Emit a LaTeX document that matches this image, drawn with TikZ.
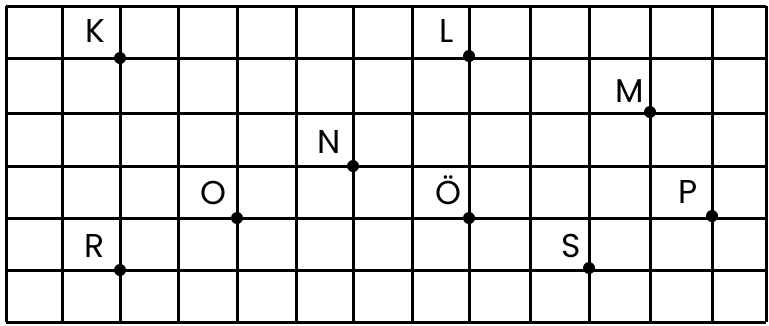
\documentclass[tikz,border=0pt]{standalone}
\usepackage{fontspec}
\setmainfont{Poppins}
\tikzset{
  gridline/.style={line width=3pt, black},
  pt/.style={circle, fill=black, inner sep=0pt, minimum size=12pt},
  lbl/.style={anchor=base, inner sep=0pt, font=\fontsize{33}{38}\selectfont}
}
\begin{document}
\begin{tikzpicture}[x=1pt,y=-1pt]
\useasboundingbox (0,0) rectangle (769,325);
\fill[white] (0,0) rectangle (769,325);
% vertical lines
\foreach \x in {6,62,120,178,237,296,353,412,469,530,589,650,712,766}
  \draw[gridline] (\x,6) -- (\x,322);
% horizontal lines
\foreach \y in {6,58,113,166,218,270,322}
  \draw[gridline] (6,\y) -- (766,\y);
% points
\node[pt] (K) at (120,58) {};
\node[pt] (L) at (469,56) {};
\node[pt] (M) at (650,112) {};
\node[pt] (N) at (353,166) {};
\node[pt] (O) at (237,218) {};
\node[pt] (OE) at (469,218) {};
\node[pt] (P) at (712,216) {};
\node[pt] (R) at (120,270) {};
\node[pt] (S) at (589,268) {};
% labels
\node[lbl] (lK) at (95,42) {K};
\node[lbl] (lL) at (447,42) {L};
\node[lbl] (lM) at (630,102) {M};
\node[lbl] (lN) at (329,153) {N};
\node[lbl] (lO) at (213,204) {O};
\node[lbl] (lOE) at (448,204) {Ö};
\node[lbl] (lP) at (688,203) {P};
\node[lbl] (lR) at (95,257) {R};
\node[lbl] (lS) at (571,257) {S};
\end{tikzpicture}
\end{document}
